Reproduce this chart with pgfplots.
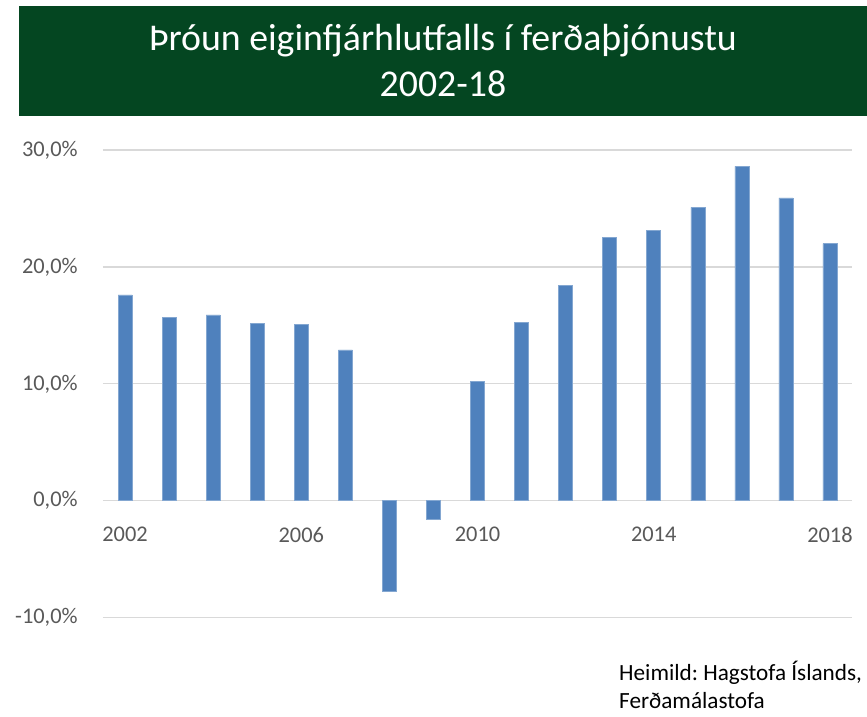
\documentclass[border=0pt]{standalone}
\usepackage{pgfplots}
\pgfplotsset{compat=1.18}
\usepackage{fontspec}
\setmainfont{Carlito}
\frenchspacing
\definecolor{titlegreen}{RGB}{4,70,33}
\definecolor{barblue}{RGB}{79,129,189}
\definecolor{gridgray}{RGB}{217,217,217}
\definecolor{labgray}{RGB}{89,89,89}
\begin{document}
\begin{tikzpicture}[x=1pt,y=1pt]
\clip (0,0) rectangle (867,717);
\fill[white] (0,0) rectangle (867,717);
\fill[titlegreen] (19,601) rectangle (867,711);
\node[anchor=base,text=white,inner sep=0pt,font=\fontsize{37.8}{44}\selectfont] at (443,666) {Þróun eiginfjárhlutfalls í ferðaþjónustu};
\node[anchor=base,text=white,inner sep=0pt,font=\fontsize{37.8}{44}\selectfont] at (443,620) {2002-18};
\begin{axis}[
  at={(103pt,99.3pt)}, anchor=south west,
  scale only axis, width=749pt, height=467.7pt,
  xmin=2001.5, xmax=2018.5, ymin=-10, ymax=30,
  axis x line=middle, axis y line=left,
  axis line style={draw=none},
  tick style={draw=none},
  ymajorgrids, major grid style={gridgray, line width=1.3pt},
  ytick={-10,0,10,20,30},
  xtick={2002,2006,2010,2014,2018},
  /pgf/number format/assume math mode=true,
  yticklabel={\pgfmathprintnumber[fixed,fixed zerofill,precision=1,use comma]{\tick}\%},
  xticklabel style={/pgf/number format/1000 sep={}, anchor=north, inner sep=0pt, yshift=-22pt},
  yticklabel style={anchor=east, inner sep=0pt, xshift=-23pt},
  ticklabel style={font=\fontsize{22.4}{26}\selectfont, text=labgray},
  ybar, bar width=14pt,
  clip=false,
]
\addplot[fill=barblue, draw=barblue!70!white, line width=0.6pt] coordinates {
(2002,17.6) (2003,15.7) (2004,15.9) (2005,15.2) (2006,15.1) (2007,12.9)
(2008,-7.7) (2009,-1.55) (2010,10.2) (2011,15.25) (2012,18.4) (2013,22.5)
(2014,23.1) (2015,25.1) (2016,28.6) (2017,25.9) (2018,22.0)
};
\end{axis}
\node[anchor=base west,inner sep=0pt,font=\fontsize{23.2}{28}\selectfont] at (619,36) {Heimild: Hagstofa Íslands,};
\node[anchor=base west,inner sep=0pt,font=\fontsize{23.2}{28}\selectfont] at (619,8) {Ferðamálastofa};
\end{tikzpicture}
\end{document}
